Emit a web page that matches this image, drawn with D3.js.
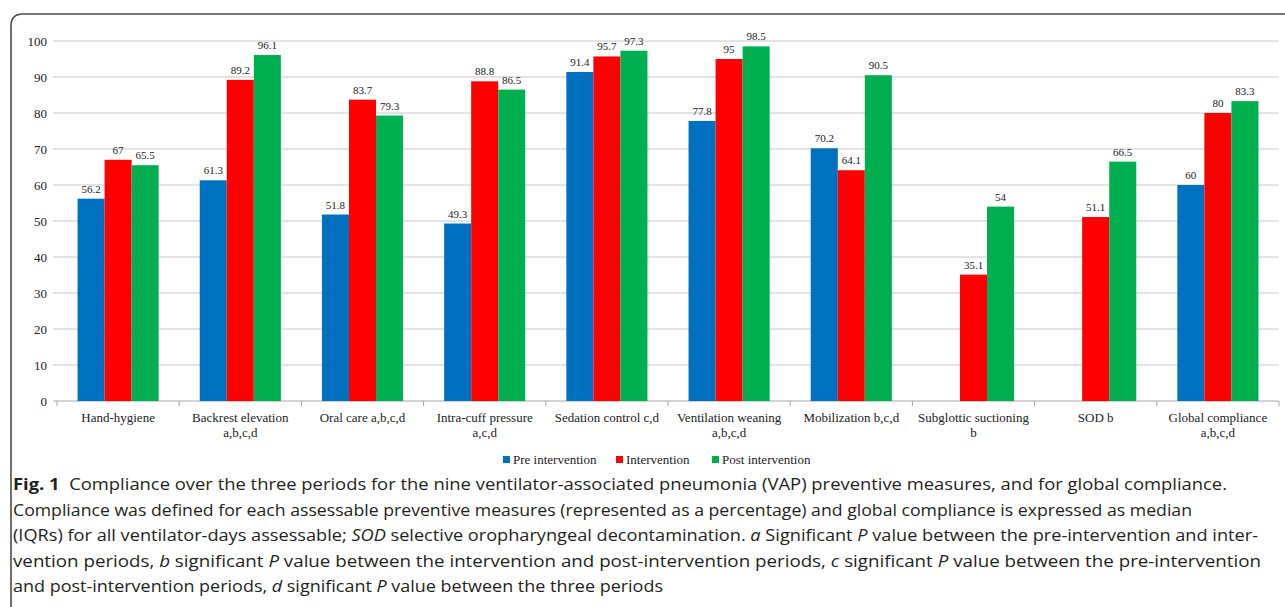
<!DOCTYPE html>
<html>
<head>
<meta charset="utf-8">
<script src="https://cdn.jsdelivr.net/npm/d3@7"></script>
<style>
  body { margin: 0; background: #fff; }
  svg { display: block; }
</style>
</head>
<body>
<div id="chart"></div>
<script>
const categories = [
    ['Hand-hygiene'],
    ['Backrest elevation', 'a,b,c,d'],
    ['Oral care a,b,c,d'],
    ['Intra-cuff pressure', 'a,c,d'],
    ['Sedation control c,d'],
    ['Ventilation weaning', 'a,b,c,d'],
    ['Mobilization b,c,d'],
    ['Subglottic suctioning', 'b'],
    ['SOD b'],
    ['Global compliance', 'a,b,c,d']
]
const seriesNames = ['Pre intervention', 'Intervention', 'Post intervention']
const preValues = [56.2, 61.3, 51.8, 49.3, 91.4, 77.8, 70.2, null, null, 60]
const intValues = [67, 89.2, 83.7, 88.8, 95.7, 95, 64.1, 35.1, 51.1, 80]
const postValues = [65.5, 96.1, 79.3, 86.5, 97.3, 98.5, 90.5, 54, 66.5, 83.3]
const yTicks = [0, 10, 20, 30, 40, 50, 60, 70, 80, 90, 100]
const colors = ['#0070c0', '#ff0000', '#00b050']

const W = 1285, H = 607
const svg = d3.select('#chart').append('svg').attr('width', W).attr('height', H)

// rounded frame (top + left edge)
svg.append('path')
    .attr('d', 'M11,607 L11,26 Q11,14 23,14 L1285,14')
    .attr('fill', 'none').attr('stroke', '#4a4a4a').attr('stroke-width', 1.6)

const margin = { left: 57, right: 1279, top: 41, bottom: 401 }
const keys = categories.map((c, i) => i)
const x = d3.scaleBand().domain(keys).range([margin.left, margin.right])
const xs = d3.scaleBand().domain([0, 1, 2]).range([0, x.bandwidth()])
    .paddingInner(0).paddingOuter(0.76)
const y = d3.scaleLinear().domain([0, 100]).range([margin.bottom, margin.top])

// grid
svg.append('g').selectAll('line').data(yTicks).enter().append('line')
    .attr('x1', margin.left - 4).attr('x2', margin.right)
    .attr('y1', d => y(d)).attr('y2', d => y(d))
    .attr('stroke', d => d === 0 ? '#a6a6a6' : '#c8c8c8').attr('stroke-width', 1)

svg.append('g').selectAll('text').data(yTicks).enter().append('text')
    .attr('x', 47).attr('y', d => y(d)).attr('dy', '0.35em')
    .attr('text-anchor', 'end')
    .attr('font-family', '"Liberation Serif", serif').attr('font-size', '13px').attr('fill', '#222')
    .text(d => d)

// category boundary ticks
svg.append('g').selectAll('line').data(d3.range(categories.length + 1)).enter().append('line')
    .attr('x1', i => margin.left + i * x.step()).attr('x2', i => margin.left + i * x.step())
    .attr('y1', y(0)).attr('y2', y(0) + 5)
    .attr('stroke', '#a6a6a6')

const series = [preValues, intValues, postValues]
series.forEach((vals, s) => {
    const g = svg.append('g')
    const data = vals.map((v, i) => ({ i, v })).filter(d => d.v !== null)
    g.selectAll('rect').data(data).enter().append('rect')
        .attr('x', d => x(d.i) + xs(s))
        .attr('y', d => y(d.v))
        .attr('width', xs.bandwidth())
        .attr('height', d => y(0) - y(d.v))
        .attr('fill', colors[s])
    g.selectAll('text').data(data).enter().append('text')
        .attr('x', d => x(d.i) + xs(s) + xs.bandwidth() / 2)
        .attr('y', d => y(d.v) - 6)
        .attr('text-anchor', 'middle')
        .attr('font-family', '"Liberation Serif", serif').attr('font-size', '11px').attr('fill', '#222')
        .text(d => d.v)
})

// category labels
const lab = svg.append('g')
categories.forEach((lines, i) => {
    lines.forEach((t, k) => {
        lab.append('text')
            .attr('x', x(i) + x.bandwidth() / 2)
            .attr('y', 422 + k * 15)
            .attr('text-anchor', 'middle')
            .attr('font-family', '"Liberation Serif", serif').attr('font-size', '13px').attr('fill', '#222')
            .text(t)
    })
})

// legend
const legX = [503, 616, 712]
seriesNames.forEach((n, s) => {
    svg.append('rect').attr('x', legX[s]).attr('y', 456).attr('width', 7).attr('height', 7).attr('fill', colors[s])
    svg.append('text').attr('x', legX[s] + 10).attr('y', 464)
        .attr('font-family', '"Liberation Serif", serif').attr('font-size', '13px').attr('fill', '#222')
        .text(n)
})

// caption
const capLines = [
    { len: 1214, parts: [['Fig. 1', 'b'], ['  Compliance over the three periods for the nine ventilator-associated pneumonia (VAP) preventive measures, and for global compliance.', '']] },
    { len: 1179, parts: [['Compliance was defined for each assessable preventive measures (represented as a percentage) and global compliance is expressed as median', '']] },
    { len: 1245, parts: [['(IQRs) for all ventilator-days assessable; ', ''], ['SOD', 'i'], [' selective oropharyngeal decontamination. ', ''], ['a', 'i'], [' Significant ', ''], ['P', 'i'], [' value between the pre-intervention and inter-', '']] },
    { len: 1248, parts: [['vention periods, ', ''], ['b', 'i'], [' significant ', ''], ['P', 'i'], [' value between the intervention and post-intervention periods, ', ''], ['c', 'i'], [' significant ', ''], ['P', 'i'], [' value between the pre-intervention', '']] },
    { len: 650, parts: [['and post-intervention periods, ', ''], ['d', 'i'], [' significant ', ''], ['P', 'i'], [' value between the three periods', '']] }
]
capLines.forEach((ln, i) => {
    const t = svg.append('text')
        .attr('x', 13).attr('y', 490 + i * 25.5)
        .attr('font-family', '"Open Sans", sans-serif').attr('font-size', '16.5px').attr('fill', '#231f20')
        .attr('textLength', ln.len).attr('lengthAdjust', 'spacingAndGlyphs')
        .attr('xml:space', 'preserve')
    ln.parts.forEach(p => {
        t.append('tspan')
            .attr('font-weight', p[1] === 'b' ? 'bold' : null)
            .attr('font-style', p[1] === 'i' ? 'italic' : null)
            .text(p[0])
    })
})
</script>
</body>
</html>
